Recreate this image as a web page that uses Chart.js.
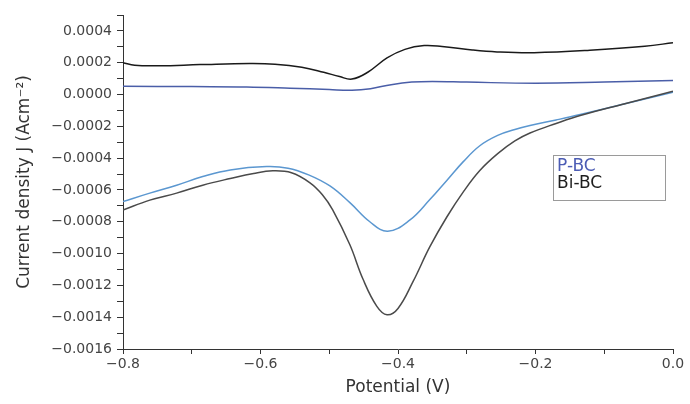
<!DOCTYPE html>
<html>
<head>
<meta charset="utf-8">
<script src="https://cdn.jsdelivr.net/npm/chart.js@4"></script>
<style>
  html, body { margin: 0; padding: 0; background: #fff; }
  #wrap { width: 690px; height: 404px; }
</style>
</head>
<body>
<div id="wrap"><canvas id="cv" width="690" height="404"></canvas></div>
<script>
// Potential (V) and current density J (A cm^-2)
const biUpperV = [-0.800, -0.783, -0.747, -0.688, -0.616, -0.579, -0.540, -0.508, -0.485, -0.467, -0.444, -0.416, -0.390, -0.362, -0.336, -0.292, -0.256, -0.202, -0.121, -0.041, 0.000];
const biUpperJ = [0.000200, 0.000184, 0.000181, 0.000188, 0.000195, 0.000191, 0.000172, 0.000140, 0.000113, 0.000097, 0.000140, 0.000230, 0.000284, 0.000308, 0.000302, 0.000280, 0.000268, 0.000263, 0.000278, 0.000303, 0.000326];

const pUpperV = [-0.800, -0.700, -0.620, -0.557, -0.500, -0.467, -0.440, -0.410, -0.380, -0.350, -0.300, -0.200, -0.100, 0.000];
const pUpperJ = [0.000052, 0.000050, 0.000048, 0.000040, 0.000031, 0.000027, 0.000037, 0.000062, 0.000078, 0.000082, 0.000078, 0.000071, 0.000078, 0.000088];

const biLowerV = [-0.800, -0.761, -0.722, -0.684, -0.644, -0.610, -0.582, -0.555, -0.528, -0.510, -0.495, -0.470, -0.451, -0.431, -0.416, -0.400, -0.378, -0.354, -0.329, -0.305, -0.281, -0.255, -0.230, -0.208, -0.170, -0.135, -0.070, 0.000];
const biLowerJ = [-0.000726, -0.000664, -0.000620, -0.000570, -0.000528, -0.000496, -0.000480, -0.000492, -0.000555, -0.000630, -0.000725, -0.000945, -0.001160, -0.001330, -0.001385, -0.001345, -0.001175, -0.000960, -0.000770, -0.000612, -0.000478, -0.000372, -0.000292, -0.000242, -0.000182, -0.000132, -0.000058, 0.000020];

const pLowerV = [-0.800, -0.761, -0.722, -0.684, -0.644, -0.591, -0.560, -0.530, -0.499, -0.470, -0.441, -0.415, -0.383, -0.354, -0.329, -0.305, -0.281, -0.255, -0.230, -0.208, -0.170, -0.135, -0.070, 0.000];
const pLowerJ = [-0.000673, -0.000620, -0.000570, -0.000516, -0.000474, -0.000453, -0.000463, -0.000505, -0.000575, -0.000680, -0.000800, -0.000860, -0.000790, -0.000662, -0.000540, -0.000422, -0.000322, -0.000257, -0.000220, -0.000195, -0.000160, -0.000126, -0.000058, 0.000015];

const seriesNames = ['P-BC', 'Bi-BC'];
const legendColors = ['#4c5cb4', '#1e1e1e'];

const toPoints = (xs, ys) => xs.map((x, i) => ({ x: x, y: ys[i] }));
const minus = '\u2212';

function line(label, xs, ys, color) {
  return {
    label: label,
    data: toPoints(xs, ys),
    borderColor: color,
    borderWidth: 1.5,
    pointRadius: 0,
    tension: 0.4,
    fill: false
  };
}

// legend drawn inside the plot, text only, in a thin grey box
const boxLegend = {
  id: 'boxLegend',
  afterDraw(chart) {
    const ctx = chart.ctx;
    const area = chart.chartArea;
    const x0 = area.right - 120;
    const y0 = area.top + 140;
    ctx.save();
    ctx.strokeStyle = '#9a9a9a';
    ctx.lineWidth = 1;
    ctx.strokeRect(x0 + 0.5, y0 + 0.5, 112, 45);
    ctx.font = '17px "DejaVu Sans"';
    ctx.textBaseline = 'middle';
    ctx.textAlign = 'left';
    seriesNames.forEach((name, i) => {
      ctx.fillStyle = legendColors[i];
      ctx.fillText(name, x0 + 4, y0 + 12 + i * 17);
    });
    ctx.restore();
  }
};

new Chart(document.getElementById('cv'), {
  type: 'line',
  data: {
    datasets: [
      line('Bi-BC', biUpperV, biUpperJ, '#1a1a1a'),
      line('P-BC', pUpperV, pUpperJ, '#4a5ea8'),
      line('Bi-BC', biLowerV, biLowerJ, '#4a4a4a'),
      line('P-BC', pLowerV, pLowerJ, '#5b97d0')
    ]
  },
  options: {
    responsive: false,
    animation: false,
    layout: { padding: { top: 15, right: 17, left: 0, bottom: 0 } },
    plugins: {
      legend: { display: false },
      tooltip: { enabled: false }
    },
    scales: {
      x: {
        type: 'linear',
        min: -0.8,
        max: 0,
        afterFit: s => { s.height = 55; },
        grid: { drawOnChartArea: false, tickLength: 5, color: '#333' },
        border: { color: '#333', width: 1 },
        ticks: {
          stepSize: 0.1,
          autoSkip: false,
          maxRotation: 0,
          padding: 2,
          color: '#444',
          font: { family: 'DejaVu Sans', size: 14 },
          callback: v => {
            const n = Math.round(v * 10);
            if (n % 2 !== 0) return '';
            return (n < 0 ? minus : '') + Math.abs(n / 10).toFixed(1);
          }
        },
        title: {
          display: true,
          text: 'Potential (V)',
          color: '#333',
          font: { family: 'DejaVu Sans', size: 17 },
          padding: { top: 4, bottom: 6 }
        }
      },
      y: {
        min: -0.0016,
        max: 0.0005,
        afterFit: s => { s.width = 123; },
        grid: { drawOnChartArea: false, tickLength: 6, color: '#333' },
        border: { color: '#333', width: 1 },
        ticks: {
          stepSize: 0.0001,
          autoSkip: false,
          padding: 5,
          color: '#444',
          font: { family: 'DejaVu Sans', size: 14 },
          callback: v => {
            const n = Math.round(v / 0.0001);
            if (n % 2 !== 0) return '';
            return (n < 0 ? minus : '') + Math.abs(n * 0.0001).toFixed(4);
          }
        },
        title: {
          display: true,
          text: 'Current density J (Acm\u207B\u00B2)',
          color: '#333',
          font: { family: 'DejaVu Sans', size: 17 },
          padding: { top: 14, bottom: 4 }
        }
      }
    }
  },
  plugins: [boxLegend]
});
</script>
</body>
</html>
